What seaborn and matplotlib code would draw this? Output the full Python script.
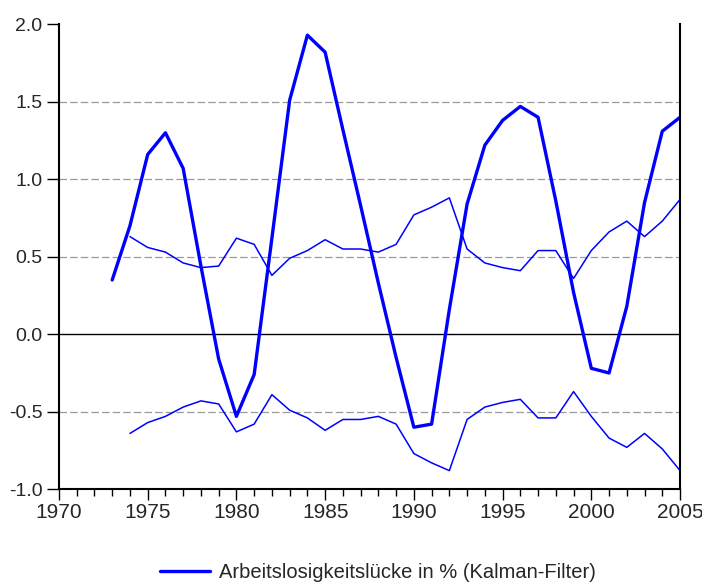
import numpy as np
import pandas as pd
import matplotlib
matplotlib.use("Agg")
import matplotlib.pyplot as plt
from matplotlib.ticker import MultipleLocator
import seaborn as sns

# ---------------- DATA ----------------
years_gap = list(range(1973, 2006))
gap = [0.35, 0.70, 1.16, 1.30, 1.07, 0.44, -0.16, -0.53, -0.26, 0.62,
       1.51, 1.93, 1.82, 1.32, 0.83, 0.33, -0.15, -0.60, -0.58, 0.16,
       0.84, 1.22, 1.38, 1.47, 1.40, 0.86, 0.27, -0.22, -0.25, 0.18,
       0.85, 1.31, 1.40]

years_band = list(range(1974, 2006))
upper = [0.63, 0.56, 0.53, 0.46, 0.43, 0.44, 0.62, 0.58, 0.38, 0.49,
         0.54, 0.61, 0.55, 0.55, 0.53, 0.58, 0.77, 0.82, 0.88, 0.55,
         0.46, 0.43, 0.41, 0.54, 0.54, 0.36, 0.54, 0.66, 0.73, 0.63,
         0.73, 0.87]
lower = [-0.64, -0.57, -0.53, -0.47, -0.43, -0.45, -0.63, -0.58, -0.39, -0.49,
         -0.54, -0.62, -0.55, -0.55, -0.53, -0.58, -0.77, -0.83, -0.88, -0.55,
         -0.47, -0.44, -0.42, -0.54, -0.54, -0.37, -0.53, -0.67, -0.73, -0.64,
         -0.74, -0.88]

label = "Arbeitslosigkeitslücke in % (Kalman-Filter)"

df_gap = pd.DataFrame({"year": years_gap, "value": gap})
df_band = pd.DataFrame({"year": years_band, "upper": upper, "lower": lower})

# ---------------- STYLE ----------------
sns.set_style("white")
plt.rcParams["font.family"] = ["Liberation Sans", "DejaVu Sans"]
plt.rcParams["font.size"] = 13

fig = plt.figure(figsize=(7.02, 5.87), dpi=100)
ax = fig.add_axes([0.084, 0.1666, 0.8847, 0.792])

# grid lines
for y in [1.5, 1.0, 0.5, -0.5, -1.0]:
    ax.axhline(y, color="#9a9a9a", lw=0.9, ls=(0, (6, 2.5)), zorder=0)
ax.axhline(0, color="black", lw=1.0, zorder=1)

# ---------------- LINES ----------------
sns.lineplot(data=df_band, x="year", y="upper", ax=ax, color="#0000ff",
             lw=1.1, legend=False)
sns.lineplot(data=df_band, x="year", y="lower", ax=ax, color="#0000ff",
             lw=1.1, legend=False)
sns.lineplot(data=df_gap, x="year", y="value", ax=ax, color="#0000ff",
             lw=2.4, label=label, legend=False)

# ---------------- AXES ----------------
ax.set_xlim(1970, 2005)
ax.set_ylim(-1.0, 2.0)
ax.set_xlabel("")
ax.set_ylabel("")
ax.xaxis.set_major_locator(MultipleLocator(5))
ax.xaxis.set_minor_locator(MultipleLocator(1))
ax.yaxis.set_major_locator(MultipleLocator(0.5))
ax.set_yticklabels([f"{v:.1f}" for v in ax.get_yticks()])
ax.tick_params(axis="x", which="major", direction="out", length=8, width=1,
               color="black", bottom=True, labelsize=15, pad=2)
ax.tick_params(axis="x", which="minor", direction="out", length=5, width=1,
               color="black", bottom=True)
ax.tick_params(axis="y", direction="out", length=9, width=1, color="black",
               left=True, labelsize=14, pad=3)

for side in ["left", "right", "bottom"]:
    ax.spines[side].set_visible(True)
    ax.spines[side].set_color("black")
    ax.spines[side].set_linewidth(1.5)
ax.spines["top"].set_visible(False)

# ---------------- LEGEND ----------------
handles, labels = ax.get_legend_handles_labels()
fig.legend(handles, labels, loc="center", bbox_to_anchor=(0.538, 0.024),
           frameon=False, fontsize=14.5, handlelength=2.5, handletextpad=0.45)

plt.savefig("out.png", dpi=100)
